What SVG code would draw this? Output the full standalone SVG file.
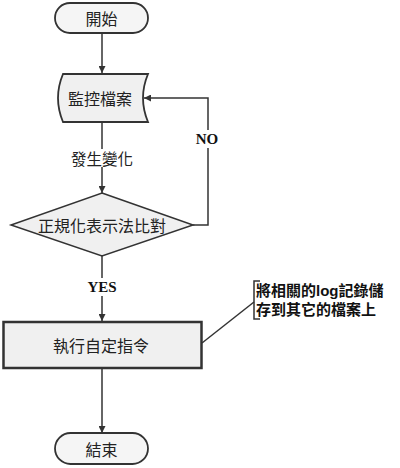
<svg xmlns="http://www.w3.org/2000/svg" width="400" height="468" viewBox="0 0 400 468">
<defs>
<marker id="ah" viewBox="0 0 10 10" refX="10" refY="5" markerWidth="7" markerHeight="7" markerUnits="userSpaceOnUse" orient="auto">
<path d="M0,0 L10,5 L0,10 z" fill="#333"/>
</marker>
<style>
.node{fill:#f0f0f0;stroke:#333;stroke-width:1.8}
.term{fill:#f5f5f5;stroke:#333;stroke-width:1.8}
.t{font-family:"Noto Sans CJK TC","Noto Sans CJK SC",sans-serif;font-size:16px;fill:#222;text-anchor:middle;dominant-baseline:central}
.lbl{font-family:"Liberation Serif",serif;font-weight:bold;font-size:15px;fill:#111;text-anchor:middle;dominant-baseline:central}
.c{fill:none;stroke:#333;stroke-width:1.5}
.note{font-family:"Liberation Sans","Noto Sans CJK TC","Noto Sans CJK SC",sans-serif;font-size:15px;font-weight:bold;fill:#111}
</style>
</defs>
<rect width="400" height="468" fill="#fff"/>
<g id="connectors">
<path class="c" d="M102,33 V73" marker-end="url(#ah)"/>
<path class="c" d="M102,122 V193" marker-end="url(#ah)"/>
<path class="c" d="M102,255 V321" marker-end="url(#ah)"/>
<path class="c" d="M102,368 V433" marker-end="url(#ah)"/>
<path class="c" d="M193,225 H208 V98 H144" marker-end="url(#ah)"/>
<rect x="86" y="149" width="32" height="18" fill="#fff"/>
<text class="t" x="102" y="158" style="font-size:15.5px">發生變化</text>
<rect x="86" y="278" width="32" height="18" fill="#fff"/>
<text class="lbl" x="102" y="287">YES</text>
<rect x="194" y="130" width="28" height="18" fill="#fff"/>
<text class="lbl" x="207" y="139">NO</text>
</g>
<g id="start">
<rect class="term" x="55" y="3" width="93" height="30" rx="15"/>
<text class="t" x="101.5" y="18">開始</text>
</g>
<g id="monitor">
<path class="node" d="M63,74 H148 Q138,98 148,122 H63 Q53,98 63,74 Z"/>
<text class="t" x="100" y="98">監控檔案</text>
</g>
<g id="compare">
<path class="node" d="M102,193 L193,225 L102,256 L11,225 Z" style="stroke-width:1.5"/>
<text class="t" x="102" y="225">正規化表示法比對</text>
</g>
<g id="execute">
<rect class="node" x="3.5" y="322" width="198" height="46" style="stroke-width:2.5"/>
<text class="t" x="101" y="345">執行自定指令</text>
</g>
<g id="end">
<rect class="term" x="55" y="433" width="93" height="31" rx="15.5"/>
<text class="t" x="101.5" y="449">結束</text>
</g>
<g id="annotation">
<path class="c" d="M202,343 L254,302"/>
<path class="c" d="M260,281 H254 V319 H260"/>
<text class="note" x="256" y="296">將相關的log記錄儲</text>
<text class="note" x="256" y="315">存到其它的檔案上</text>
</g>
</svg>
